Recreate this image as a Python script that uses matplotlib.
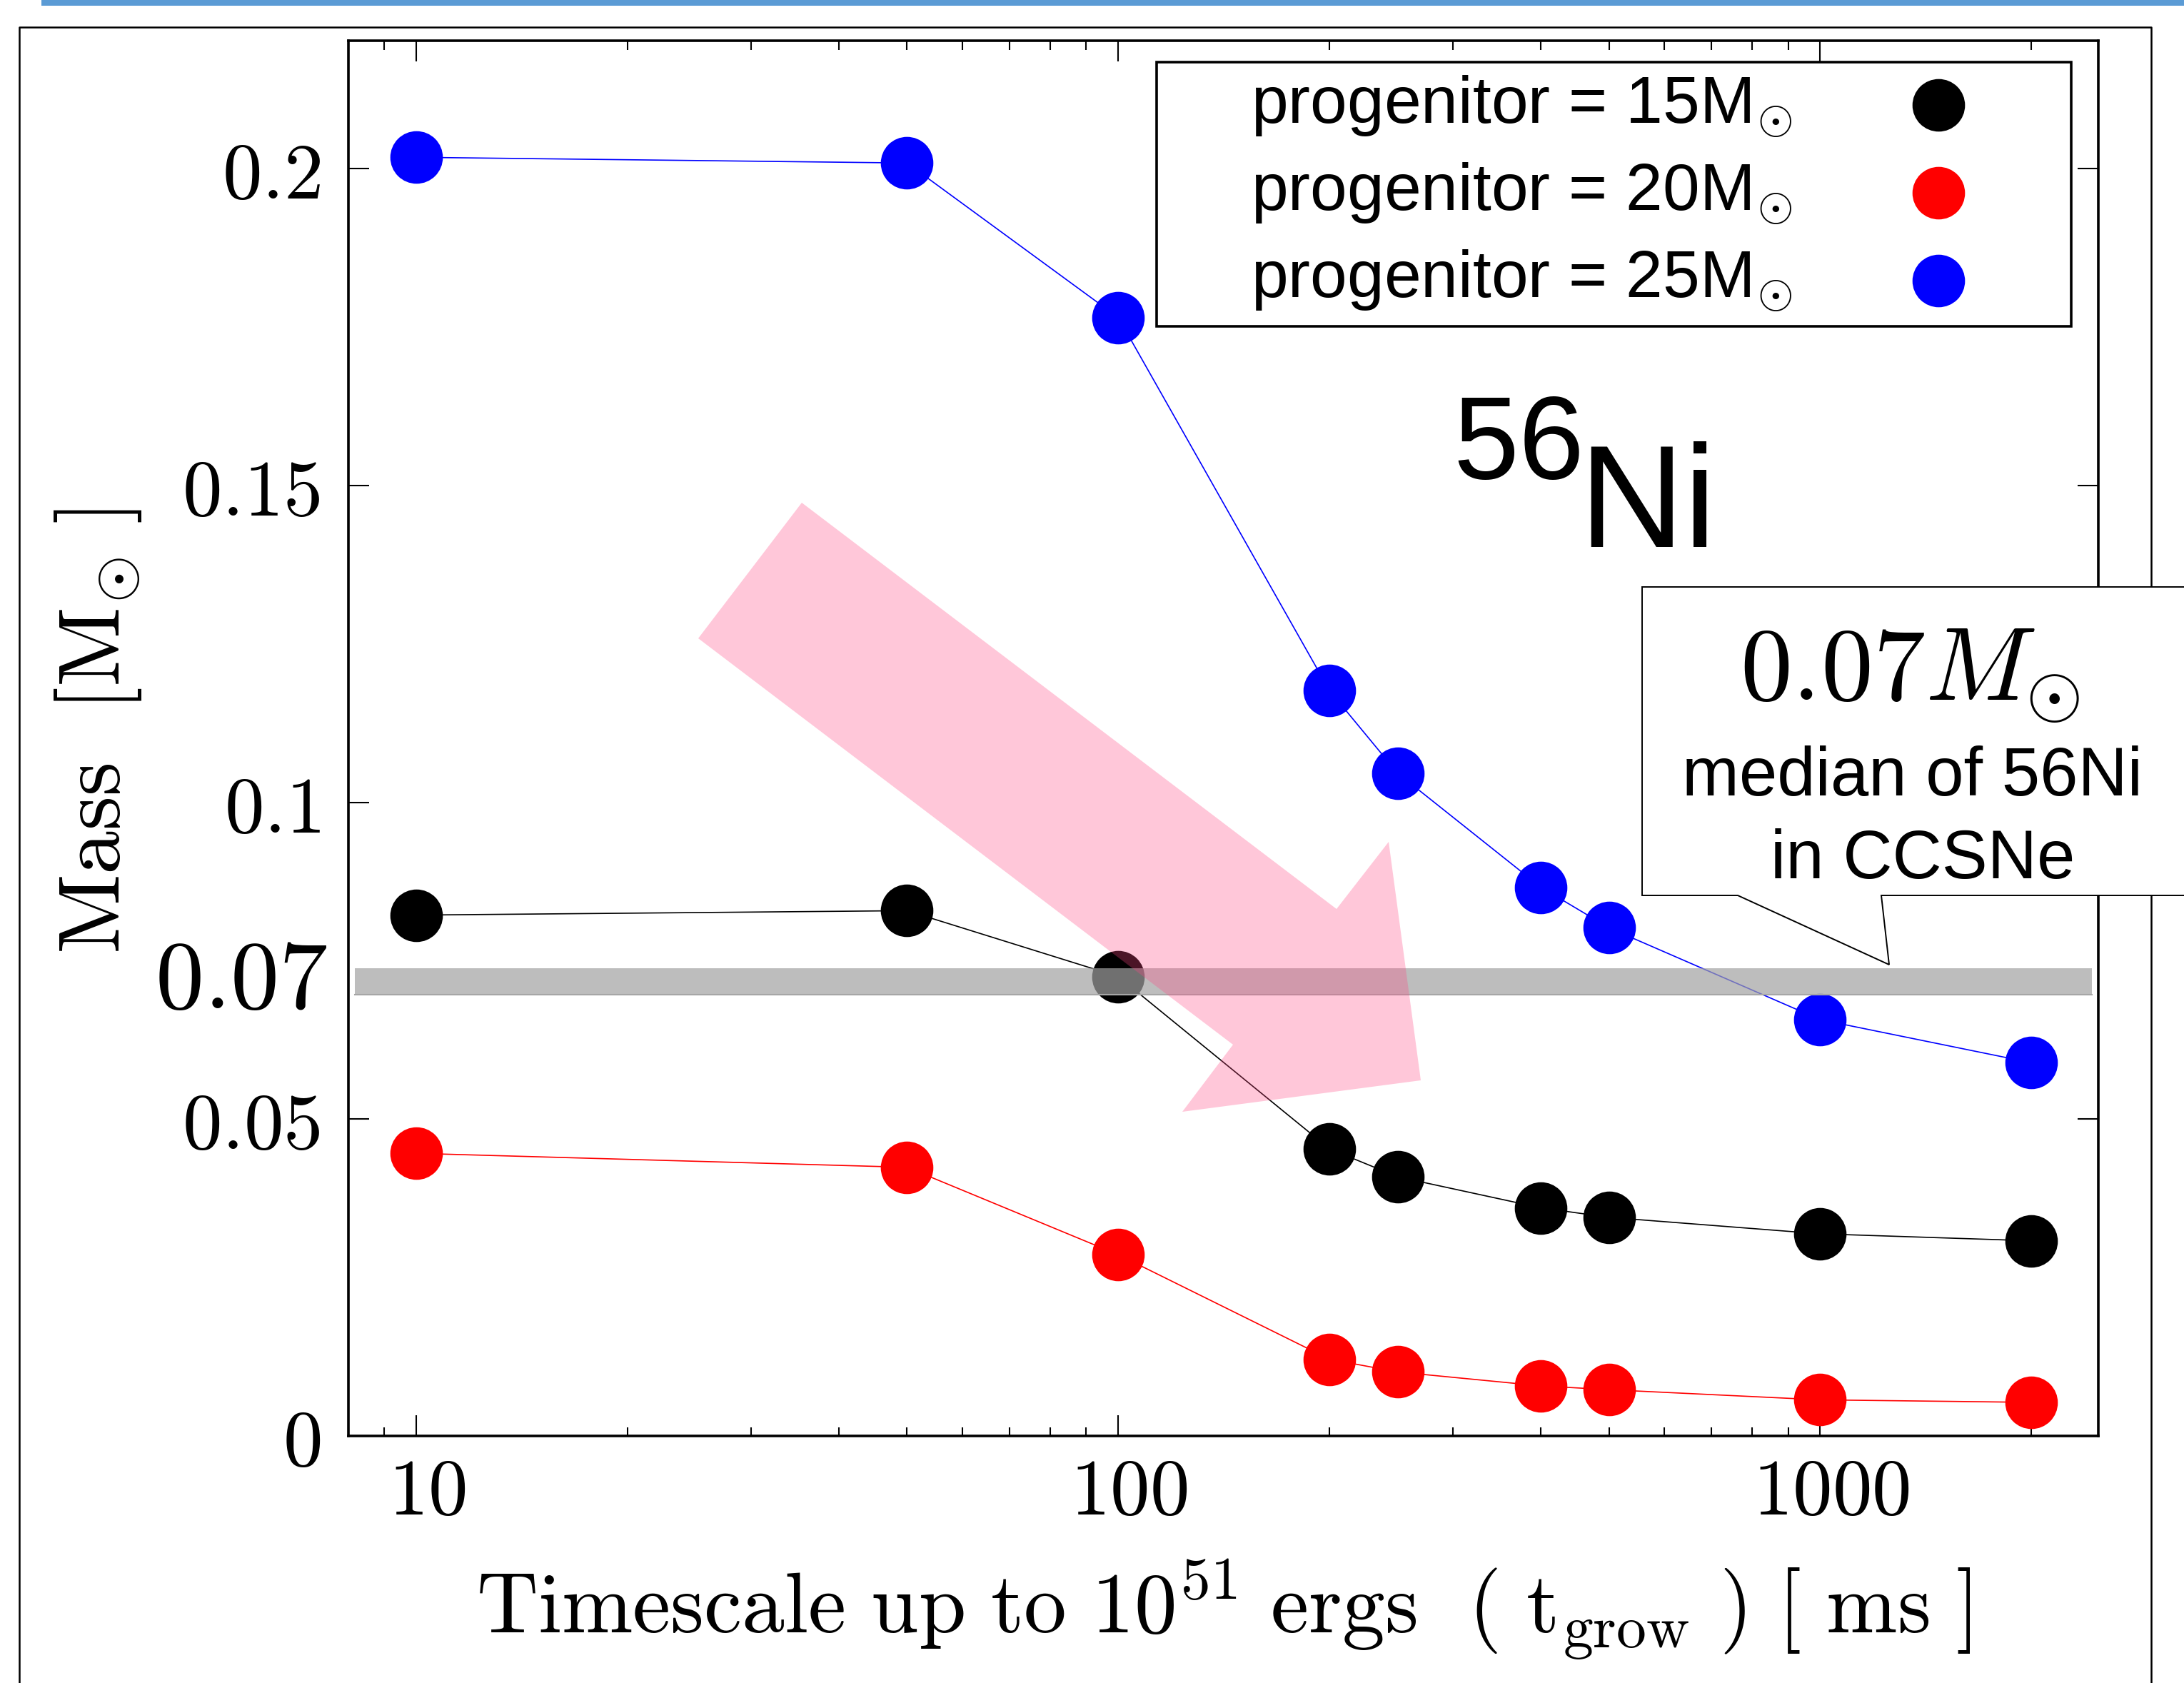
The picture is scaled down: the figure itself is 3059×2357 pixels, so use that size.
import matplotlib.pyplot as plt
import numpy as np
from matplotlib.patches import Polygon, Rectangle
from matplotlib.lines import Line2D
from matplotlib.ticker import NullFormatter, NullLocator
from matplotlib.transforms import ScaledTranslation, blended_transform_factory

plt.rcParams['mathtext.fontset'] = 'cm'

# data
t_grow = [10, 50, 100, 200, 250, 400, 500, 1000, 2000]
ni_15 = [0.0822, 0.0829, 0.0725, 0.0453, 0.0409, 0.0360, 0.0345, 0.0319, 0.0308]
ni_20 = [0.0446, 0.0424, 0.0286, 0.0121, 0.0101, 0.0079, 0.0073, 0.0057, 0.0053]
ni_25 = [0.2018, 0.2009, 0.1765, 0.1176, 0.1046, 0.0866, 0.0802, 0.0657, 0.0589]
series = [ni_15, ni_20, ni_25]
labels = [r'progenitor = 15M$_{\odot}$', r'progenitor = 20M$_{\odot}$', r'progenitor = 25M$_{\odot}$']
colors = ['black', 'red', 'blue']
xticks = [10, 100, 1000]
xtick_labels = [r'$10$', r'$100$', r'$1000$']
yticks = [0, 0.05, 0.1, 0.15, 0.2]
ytick_labels = [r'$0$', r'$0.05$', r'$0.1$', r'$0.15$', r'$0.2$']
median_band = (0.0696, 0.0738)

W, H = 3059, 2357
fig = plt.figure(figsize=(W / 100, H / 100), dpi=100)


def fp(x, y):
    # pixel position (from top-left) -> figure fraction
    return (x / W, 1 - y / H)


ax = fig.add_axes([488 / W, 1 - 2011 / H, 2451 / W, 1954 / H])

for ys, c in zip(series, colors):
    ax.plot(t_grow, ys, '-', color=c, lw=1.2, marker='o', ms=53, mew=0, zorder=3)

ax.set_xscale('log')
ax.set_xlim(8, 2490)
ax.set_ylim(0, 0.2202)
ax.set_xticks(xticks)
ax.set_xticklabels(xtick_labels)
ax.xaxis.set_minor_formatter(NullFormatter())
ax.set_yticks(yticks)
ax.set_yticklabels(ytick_labels)
ax.yaxis.set_minor_locator(NullLocator())
ax.tick_params(which='both', direction='in', top=True, right=True, width=1.5, color='black')
ax.tick_params(which='major', length=21, labelsize=80)
ax.tick_params(which='minor', length=9)
ax.tick_params(axis='x', pad=19)
ax.tick_params(axis='y', pad=28)
for s in ax.spines.values():
    s.set_linewidth(2.6)
for lab in ax.get_xticklabels():
    lab.set_transform(lab.get_transform() + ScaledTranslation(0.15, 0, fig.dpi_scale_trans))

ax.set_xlabel(r'$\mathrm{Timescale\ up\ to\ 10^{51}\ ergs\ \ (\ t_{grow}\ )\ [\ ms\ ]}$', fontsize=86)
ax.xaxis.set_label_coords(0.5, -0.087)
ax.set_ylabel(r'$\mathrm{Mass\ \ [M_{\odot}\ ]}$', fontsize=88)
ax.yaxis.set_label_coords(-0.117, 0.505)

# extra label at the median value
blend = blended_transform_factory(ax.transAxes, ax.transData)
ax.text(-0.012, np.mean(median_band), r'$0.07$', transform=blend, ha='right', va='center', fontsize=98)

# grey band for the median 56Ni mass
ax.axhspan(median_band[0], median_band[1], xmin=0.0037, xmax=0.9963,
           color=(161 / 255, 161 / 255, 161 / 255), alpha=0.7, lw=0, zorder=4)
ax.axhline(median_band[0], xmin=0.0037, xmax=0.9963, color='#a6a6a6', lw=1.5, zorder=4)

# pink arrow
arrow_px = [(1123, 704), (1872, 1273), (1945, 1179), (1990, 1513),
            (1656, 1557), (1727, 1463), (978, 894)]
ax.add_patch(Polygon([fp(x, y) for x, y in arrow_px], closed=True, transform=fig.transFigure,
                     facecolor=(1.0, 72 / 255, 132 / 255), alpha=0.3, lw=0, zorder=5))

# 56Ni label
ax.text(*fp(2035, 670), '56', transform=fig.transFigure, fontsize=119,
        family='Liberation Sans', ha='left', va='baseline', zorder=6)
ax.text(*fp(2211, 766), 'Ni', transform=fig.transFigure, fontsize=147,
        family='Liberation Sans', ha='left', va='baseline', zorder=6)

# legend drawn by hand
fig.add_artist(Rectangle(fp(1620, 457), (2901 - 1620) / W, (457 - 87) / H, transform=fig.transFigure,
                         facecolor='white', edgecolor='black', lw=2.6, zorder=6))
for i, (lab, c) in enumerate(zip(labels, colors)):
    fig.text(*fp(1752, 172 + 122 * i), lab, fontsize=67, family='Liberation Sans',
             ha='left', va='baseline', zorder=7)
    fig.add_artist(Line2D([fp(2715, 147 + 123 * i)[0]], [fp(2715, 147 + 123 * i)[1]],
                          marker='o', ms=53, mew=0, color=c, transform=fig.transFigure, zorder=7))

# callout box
callout_px = [(2300, 822), (3090, 822), (3090, 1254), (2635, 1254), (2646, 1351), (2434, 1254), (2300, 1254)]
fig.add_artist(Polygon([fp(x, y) for x, y in callout_px], closed=True, transform=fig.transFigure,
                       facecolor='white', edgecolor='black', lw=1.4, zorder=10))
fig.text(*fp(2675, 980), r'$0.07M_{\odot}$', fontsize=105, ha='center', va='baseline', zorder=11)
fig.text(*fp(2678, 1114), 'median of 56Ni', fontsize=69, family='Liberation Sans',
         ha='center', va='baseline', zorder=11)
fig.text(*fp(2693, 1230), 'in CCSNe', fontsize=69, family='Liberation Sans',
         ha='center', va='baseline', zorder=11)

# page decorations: blue bar on top and the outer frame
fig.add_artist(Rectangle(fp(58, 8), 1, 8 / H, transform=fig.transFigure, color='#5b9bd5', lw=0))
fig.add_artist(Line2D([27 / W, 27 / W, 3013 / W, 3013 / W], [0, 1 - 38 / H, 1 - 38 / H, 0],
                      color='black', lw=1.8, transform=fig.transFigure, zorder=2))

fig.savefig('out.png', dpi=100)
